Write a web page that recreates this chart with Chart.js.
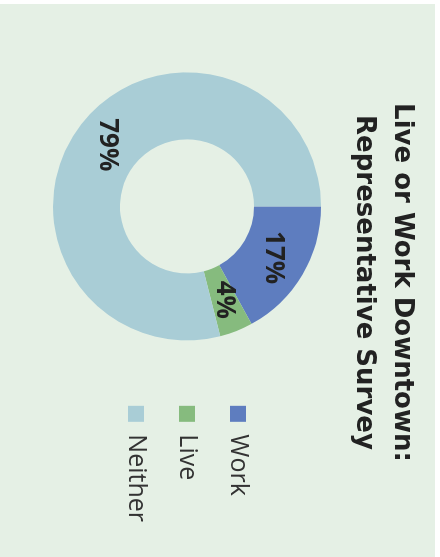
<!DOCTYPE html>
<html>
<head>
<meta charset="utf-8">
<script src="https://cdn.jsdelivr.net/npm/chart.js@4/dist/chart.umd.min.js"></script>
<style>
  html, body { margin: 0; padding: 0; background: #fff; }
  body { width: 440px; height: 557px; overflow: hidden; position: relative; }
  /* chart is drawn landscape and turned a quarter clockwise */
  #wrap {
    position: absolute; left: 0; top: 0;
    width: 553px; height: 435px;
    background: #e5f0e5;
    transform-origin: 0 0;
    transform: translate(435px, 4px) rotate(90deg);
  }
</style>
</head>
<body>
<div id="wrap"><canvas id="surveyChart" width="553" height="435"></canvas></div>
<script>
var categories = ['Work', 'Live', 'Neither'];
var shares = [17, 4, 79];
var colors = ['#5e7dbf', '#86bb7e', '#a9cdd6'];
var titleLines = ['Live or Work Downtown:', 'Representative Survey'];

// percent labels in the middle of each ring segment
var sliceLabels = {
  id: 'sliceLabels',
  afterDatasetsDraw: function(chart) {
    var ctx = chart.ctx;
    var meta = chart.getDatasetMeta(0);
    ctx.save();
    ctx.font = 'bold 26px "Open Sans"';
    ctx.fillStyle = '#222';
    ctx.textAlign = 'center';
    ctx.textBaseline = 'middle';
    meta.data.forEach(function(arc, i) {
      var p = arc.tooltipPosition();
      ctx.fillText(shares[i] + '%', p.x, p.y);
    });
    ctx.restore();
  }
};

var ctx = document.getElementById('surveyChart').getContext('2d');
var myChart = new Chart(ctx, {
  type: 'doughnut',
  data: {
    labels: categories,
    datasets: [{
      data: shares,
      backgroundColor: colors,
      borderWidth: 0
    }]
  },
  options: {
    responsive: false,
    animation: false,
    cutout: '50%',
    layout: { padding: { left: 29, right: 25, top: 0, bottom: 53 } },
    plugins: {
      title: {
        display: true,
        text: titleLines,
        color: '#222',
        font: { family: '"DejaVu Sans"', size: 26, weight: 'bold', lineHeight: 1.46 },
        padding: { top: 14, bottom: 24 }
      },
      legend: {
        position: 'right',
        fullSize: false,
        labels: {
          color: '#333',
          font: { family: '"Open Sans"', size: 25 },
          boxWidth: 16,
          boxHeight: 16,
          padding: 26
        }
      },
      tooltip: { enabled: false }
    }
  },
  plugins: [sliceLabels]
});
</script>
</body>
</html>
